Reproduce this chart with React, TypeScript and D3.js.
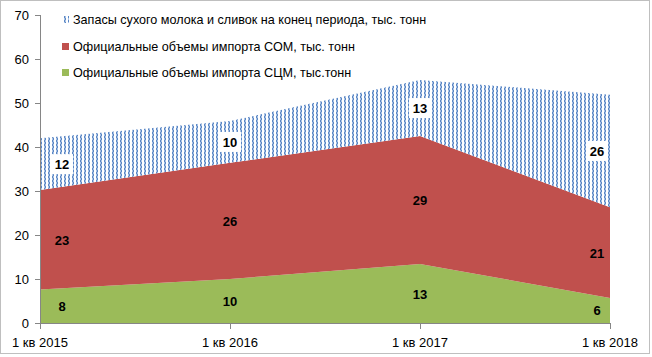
import React from "react";
import * as d3 from "d3";

const categories = ["1 кв 2015", "1 кв 2016", "1 кв 2017", "1 кв 2018"];
const scmValues = [7.6, 10.0, 13.4, 5.7];
const somValues = [22.6, 26.4, 29.1, 20.6];
const stockValues = [11.8, 9.5, 12.7, 25.6];
const scmLabels = ["8", "10", "13", "6"];
const somLabels = ["23", "26", "29", "21"];
const stockLabels = ["12", "10", "13", "26"];
const yTicks = [0, 10, 20, 30, 40, 50, 60, 70];
const legendNames = [
  "Запасы сухого молока и сливок на конец периода, тыс. тонн",
  "Официальные объемы импорта СОМ, тыс. тонн",
  "Официальные объемы импорта СЦМ, тыс.тонн",
];

const W = 652;
const H = 357;
const FONT = "'Liberation Sans', Arial, sans-serif";

export default function App() {
  const x = d3.scalePoint<string>().domain(categories).range([40, 610]);
  const y = d3.scaleLinear().domain([0, 70]).range([323, 15]);

  const rows = categories.map((c, i) => ({
    c,
    scm: scmValues[i],
    som: somValues[i],
    stock: stockValues[i],
  }));
  const stack = d3.stack<any>().keys(["scm", "som", "stock"])(rows);
  const area = d3
    .area<any>()
    .x((d) => x(d.data.c) as number)
    .y0((d) => y(d[0]))
    .y1((d) => y(d[1]));

  const fills = ["#9bbb59", "#c0504d", "url(#hatch)"];
  const labelSets = [scmLabels, somLabels, stockLabels];
  const labelX = (i: number) => {
    const px = x(categories[i]) as number;
    if (i === 0) return px + 22;
    if (i === categories.length - 1) return px - 13;
    return px;
  };

  const legendY = [20, 47, 73];
  const legendFills = ["url(#hatch)", "#c0504d", "#9bbb59"];

  return (
    <svg width={W} height={H} style={{ display: "block", position: "absolute", left: 0, top: 0 }}>
      <defs>
        <pattern id="hatch" width="4" height="4" patternUnits="userSpaceOnUse">
          <rect width="4" height="4" fill="#ffffff" />
          <rect x="0" y="0" width="1" height="2" fill="#5b87c5" />
          <rect x="0" y="2" width="1" height="2" fill="#a9c2e4" />
          <rect x="1" y="0" width="1" height="2" fill="#a9c2e4" />
          <rect x="1" y="2" width="1" height="2" fill="#5b87c5" />
        </pattern>
      </defs>
      <rect x={0.5} y={0.5} width={W - 3} height={H - 4} fill="#ffffff" stroke="#bfbfbf" />

      {stack.map((s, k) => (
        <path key={k} d={area(s as any) || ""} fill={fills[k]} />
      ))}

      {/* y axis */}
      <line x1={40.5} x2={40.5} y1={y(70)} y2={y(0)} stroke="#868686" />
      {yTicks.map((t) => (
        <g key={t}>
          <line x1={35} x2={40} y1={Math.round(y(t)) + 0.5} y2={Math.round(y(t)) + 0.5} stroke="#868686" />
          <text x={29} y={y(t) + 4.5} textAnchor="end" fontFamily={FONT} fontSize={13} fill="#000">
            {t}
          </text>
        </g>
      ))}
      {/* x axis */}
      <line x1={40} x2={611} y1={323.5} y2={323.5} stroke="#868686" />
      {categories.map((c) => (
        <g key={c}>
          <line x1={(x(c) as number) + 0.5} x2={(x(c) as number) + 0.5} y1={323} y2={329} stroke="#868686" />
          <text x={x(c) as number} y={347} textAnchor="middle" fontFamily={FONT} fontSize={13} fill="#000">
            {c}
          </text>
        </g>
      ))}

      {/* data labels */}
      {stack.map((s, k) =>
        s.map((d, i) => {
          const lx = labelX(i);
          const ly = y((d[0] + d[1]) / 2);
          const txt = labelSets[k][i];
          return (
            <g key={`${k}-${i}`}>
              {k === 2 && (
                <rect x={lx - 11} y={ly - 10} width={22} height={20} fill="#ffffff" />
              )}
              <text
                x={lx}
                y={ly + 5}
                textAnchor="middle"
                fontFamily={FONT}
                fontSize={13}
                fontWeight="bold"
                fill="#000"
              >
                {txt}
              </text>
            </g>
          );
        })
      )}

      {/* legend */}
      {legendNames.map((n, i) => (
        <g key={n}>
          <rect x={62} y={legendY[i] - 4} width={7} height={7} fill={legendFills[i]} />
          <text x={73} y={legendY[i] + 4} fontFamily={FONT} fontSize={12.6} fill="#000">
            {n}
          </text>
        </g>
      ))}
    </svg>
  );
}
